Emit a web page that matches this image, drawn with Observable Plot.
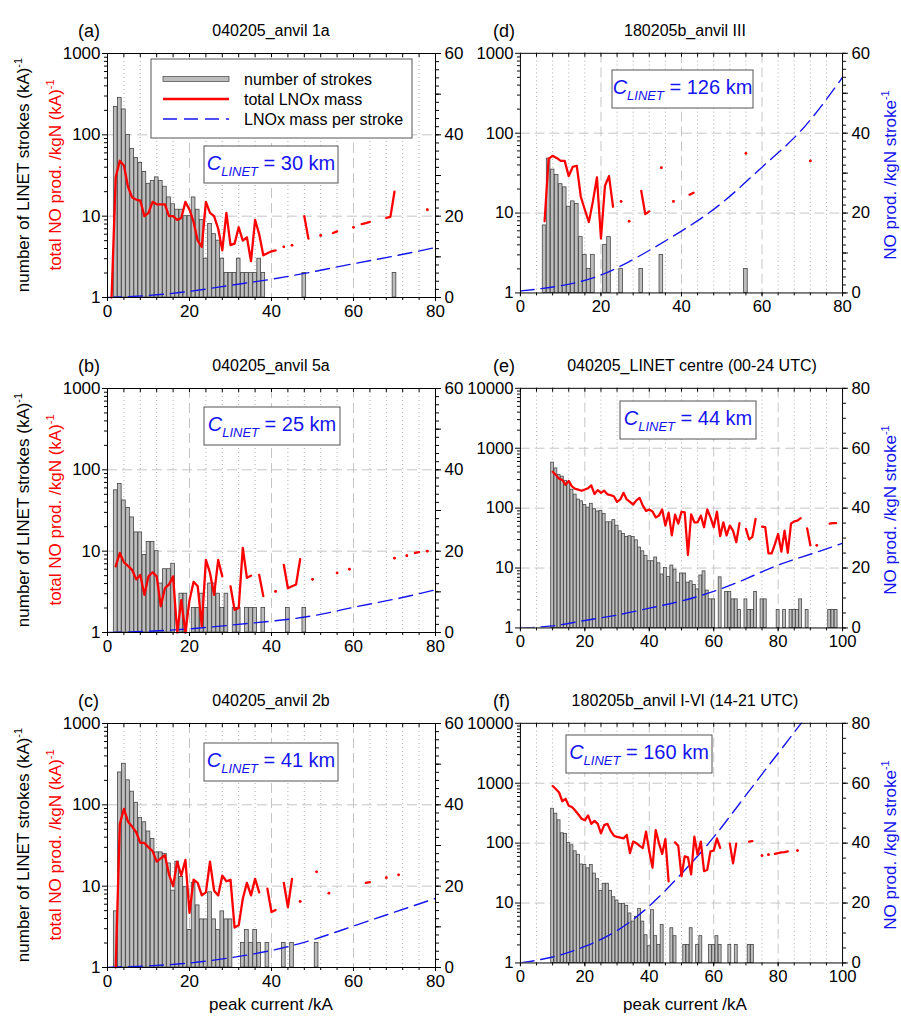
<!DOCTYPE html>
<html><head><meta charset="utf-8">
<script src="https://cdn.jsdelivr.net/npm/d3@7"></script>
<script src="https://cdn.jsdelivr.net/npm/@observablehq/plot@0.6"></script>
<style>
body{margin:0;background:#fff;font-family:"Liberation Sans",Arial,sans-serif;}
#wrap{position:relative;width:901px;height:1019px;overflow:hidden;}
.pp{position:absolute;}
#ov{position:absolute;left:0;top:0;}
</style></head><body><div id="wrap"></div>
<script>
// ---------- data: [peak current kA, value] ----------
const aBars=[[2,220],[3,285],[4,205],[5,100],[6,67],[7,52],[8,45],[9,35],[10,25],[11,27],[12,30],[13,27],[14,23],[15,17],[16,14],[17,12],[18,12],[19,10],[20,10],[21,17],[22,12],[23,9],[24,3],[25,8],[26,6],[27,5],[28,3],[29,2],[30,2],[31,2],[32,3],[33,2],[34,2],[35,2],[36,2],[37,3],[38,2],[48,2],[70,2]];
const aRed=[[1,1],[2,30],[3,48],[4,42],[5,23],[6,17],[7,16],[8,15.5],[9,10],[10,11],[11,15],[12,14],[13,14],[14,14],[15,10],[16,10],[17,9],[18,9.5],[19,15],[20,12],[21,8.5],[22,5],[23,4.2],[24,15],[25,11],[26,10],[27,7],[28,3.8],[29,11],[30,4.4],[31,4.6],[32,7.3],[33,5],[34,5.5],[35,2.8],[36,9],[37,6],[38,3.3],[39,3.5],[40,3.7],[41,3.8],[43,4.2],[45,4.4],[48,10],[49,5.3],[52,5.8],[55,6.2],[56,6.5],[60,7.3],[62,8],[63,8.2],[64,8.5],[68,9.5],[69,9.8],[70,20],[78,12]];
const aBlue=[[0,0],[10,0.5],[20,1.5],[30,3],[40,4.5],[50,6.3],[60,8.3],[70,10.2],[80,12.3]];

const bBars=[[2,56],[3,67],[4,42],[5,34],[6,26],[7,17],[8,17],[9,9],[10,13],[11,13],[12,10],[13,4],[14,6],[15,6],[16,7],[18,3],[19,3],[21,2],[22,2],[23,3],[24,2],[25,4],[26,4],[27,3],[28,2],[29,3],[31,2],[32,2],[34,2],[35,2],[36,2],[38,2],[44,2],[48,2]];
const bRed=[[2,6.5],[3,9.5],[4,7.3],[5,6.6],[6,5.9],[7,4.5],[8,5.1],[9,2.9],[10,4.9],[11,5.5],[12,4.9],[13,2.1],[14,3.5],[15,3.9],[16,4.9],[17,1],[18,2.5],[19,1],[20,2.5],[21,4.2],[22,3.7],[23,1.2],[24,7.8],[25,5.4],[26,2.9],[27,7.8],[28,4.9],[30,3.7],[31,1.9],[32,2],[33,11],[34,4.7],[35,5],[37,5.1],[38,2.8],[41,3.2],[43,6.8],[44,3.5],[45,3.7],[46,3.9],[47,8],[50,4.5],[56,5.4],[59,6],[70,8.2],[73,8.8],[75,9.5],[76,9.7],[78,10]];
const bBlue=[[0,0],[10,0.3],[20,0.9],[30,1.8],[40,2.8],[50,4.1],[60,6.2],[70,8.2],[80,10.5]];

const cBars=[[2,4.9],[3,250],[4,320],[5,200],[6,145],[7,106],[8,69],[9,61],[10,47],[11,38],[12,26],[13,26],[14,25],[15,19],[16,8.8],[17,20],[18,13],[19,9.7],[20,2.9],[21,11],[22,5.8],[23,3.9],[24,3.9],[25,8.4],[26,3.9],[27,2.9],[28,4.9],[29,3.9],[30,3.9],[33,2],[34,2.9],[35,2],[36,2.9],[37,2],[39,2],[43,2],[45,2],[51,2]];
const cRed=[[2,1],[3,58],[4,89],[5,62],[6,54],[7,46],[8,34],[9,34],[10,30],[11,27],[12,20],[13,22],[14,24],[15,14],[16,10],[17,20],[18,13.5],[19,21],[20,4.7],[21,12],[22,11],[23,7.7],[24,8.4],[25,20],[26,8.8],[27,7.7],[28,13.5],[29,11.5],[30,12],[31,3.1],[32,3.3],[33,7],[34,11],[35,7.7],[36,12.3],[37,8.4],[39,9.3],[40,4.8],[41,5.1],[43,11],[44,5.5],[45,12.3],[47,6.5],[51,15],[54,8.2],[63,11],[64,11.2],[68,12.7],[71,13.8]];
const cBlue=[[0,0],[10,0.4],[20,1.1],[30,2.4],[40,4.2],[50,6.8],[60,10.2],[70,13.6],[80,17]];

const dBars=[[6,7],[7,48],[8,35],[9,30],[10,23],[11,21],[12,12],[13,14],[14,13],[15,5],[16,3],[17,2],[18,3],[21,4],[22,5],[25,2],[30,2],[35,3],[56,2]];
const dRed=[[6,7.9],[7,48],[8,52],[9,49],[10,45],[11,45],[12,29],[13,38],[14,39],[15,16],[16,11],[17,7.7],[18,14],[19,28],[20,4.8],[21,22],[22,29],[23,12],[25,14],[27,7.9],[30,19],[31,9.7],[32,10.5],[35,37],[38,14],[42,17],[43,18],[56,56],[72,45]];
const dBlue=[[0,0.5],[10,1.8],[20,4.5],[30,9.5],[40,15.5],[50,22.5],[60,31.5],[70,41],[80,54]];

const eBars=[[10,575],[11,460],[12,357],[13,335],[14,285],[15,260],[16,203],[17,168],[18,139],[19,130],[20,113],[21,102],[22,118],[23,96],[24,88],[25,90],[26,80],[27,58],[28,58],[29,63],[30,51],[31,41],[32,37],[33,33],[34,34],[35,33],[36,29],[37,22],[38,19],[39,16],[40,13],[41,13],[42,15],[43,12],[44,7.8],[45,10],[46,7.1],[47,11],[48,9.4],[49,5.7],[50,8.1],[51,8.1],[52,5.7],[53,6],[54,5.2],[55,4.4],[56,7.5],[57,8.8],[58,4.2],[59,3],[60,3],[62,7],[64,4],[65,4],[66,3],[67,3],[68,2],[70,3],[71,2],[72,2],[73,4],[75,3],[76,3],[80,2],[82,2],[84,2],[85,2],[86,2],[87,3],[89,2],[96,2],[97,2],[98,2]];
const eRed=[[10,405],[11,357],[12,310],[13,297],[14,245],[15,285],[16,230],[17,210],[18,203],[19,195],[20,205],[21,215],[22,240],[23,172],[24,200],[25,180],[26,195],[27,170],[28,165],[29,158],[30,127],[31,140],[32,180],[33,140],[34,127],[35,115],[36,135],[37,148],[38,110],[39,90],[40,95],[41,88],[42,70],[43,75],[44,95],[45,51],[46,84],[47,35],[48,78],[49,55],[50,87],[51,85],[52,16.5],[53,79],[54,58],[55,58],[56,75],[57,48],[58,95],[59,70],[60,48],[61,87],[62,34],[63,58],[64,35],[65,51],[66,42],[67,27],[68,56],[70,45],[71,30],[72,33],[73,66],[75,49],[76,48],[77,17.6],[78,17.6],[79,25],[80,37],[81,18.8],[82,42],[83,18],[84,55],[85,60],[86,62],[87,68],[89,46],[90,24],[92,24],[96,55],[97,56],[98,56]];
const eBlue=[[0,0],[10,0.7],[20,2.5],[30,4.3],[40,6.6],[50,9],[60,12.2],[70,16.4],[80,21],[90,24.6],[100,28.3]];

const fBars=[[10,375],[11,310],[12,240],[13,146],[14,143],[15,100],[16,92],[17,73],[18,64],[19,44],[20,43],[21,38],[22,43],[23,31],[24,25],[25,16],[26,21],[27,21],[28,16],[29,12.5],[30,11],[31,9.7],[32,9.7],[33,9],[34,6.7],[35,4.9],[36,5.9],[37,8],[38,4.9],[39,2.9],[40,1.9],[41,7.6],[42,2.8],[43,2],[44,4.3],[47,3.8],[48,2.8],[51,2],[52,2],[53,3.8],[55,2],[56,2.8],[59,2],[60,2],[61,2.8],[62,2],[65,2],[67,2],[71,2],[72,2]];
const fRed=[[10,900],[11,800],[12,700],[13,500],[14,550],[15,420],[16,400],[17,350],[18,300],[19,255],[20,240],[21,290],[22,210],[23,235],[24,210],[25,145],[26,200],[27,210],[28,160],[29,133],[30,127],[31,124],[32,120],[33,137],[34,68],[35,106],[36,100],[37,90],[38,83],[39,156],[40,73],[41,39],[42,165],[43,100],[44,66],[45,117],[46,23],[48,103],[49,90],[50,28],[51,60],[52,58],[53,30],[54,128],[55,64],[56,106],[57,34],[58,36],[59,73],[60,75],[61,120],[62,83],[65,98],[66,46],[67,98],[71,106],[72,108],[75,62],[77,64],[79,66],[80,68],[81,70],[82,71],[83,73],[86,75]];
const fBlue=[[0,0],[10,2],[20,5.5],[30,10.8],[40,19],[50,29.8],[60,42],[70,56],[80,70],[90,84]];

const titles=["040205_anvil 1a","040205_anvil 5a","040205_anvil 2b","180205b_anvil III","040205_LINET centre (00-24 UTC)","180205b_anvil I-VI (14-21 UTC)"];
const letters=["(a)","(b)","(c)","(d)","(e)","(f)"];
const cLinet=["30","25","41","126","44","160"];

const panels=[
 {col:0,row:0,xmax:80,D:3,rmax:60,bars:aBars,red:aRed,blue:aBlue,box:[204,146,338,183]},
 {col:0,row:1,xmax:80,D:3,rmax:60,bars:bBars,red:bRed,blue:bBlue,box:[204,407,340,445]},
 {col:0,row:2,xmax:80,D:3,rmax:60,bars:cBars,red:cRed,blue:cBlue,box:[204,743,338,781]},
 {col:1,row:0,xmax:80,D:3,rmax:60,bars:dBars,red:dRed,blue:dBlue,box:[612,70,753,108]},
 {col:1,row:1,xmax:100,D:4,rmax:80,bars:eBars,red:eRed,blue:eBlue,box:[620,401,756,439]},
 {col:1,row:2,xmax:100,D:4,rmax:80,bars:fBars,red:fRed,blue:fBlue,box:[566,735,712,773]},
];
const colL=[107,521], rowT=[53,388,723], W=328, H=244;
const mL=60,mR=60,mT=10,mB=30;
const wrap=document.getElementById("wrap");
const FONT='"Liberation Sans",Arial,sans-serif';

panels.forEach((p,i)=>{
  const ymax=10**p.D;
  const conv=v=>10**(v/p.rmax*p.D);
  const bars=p.bars.map(([x,n])=>({x,n}));
  const line=[];
  p.red.forEach(([x,v],j)=>{ if(j>0 && p.red[j-1][0]!==x-1) line.push({x:x-0.5,v:null}); line.push({x,v}); });
  const dots=p.red.filter(([x],j)=>!(j>0&&p.red[j-1][0]===x-1)&&!(j<p.red.length-1&&p.red[j+1][0]===x+1)).map(([x,v])=>({x,v}));
  const blue=p.blue.map(([x,v])=>({x,v}));
  const minorStep=p.xmax===80?4:5;
  const allX=d3.range(0,p.xmax+0.01,minorStep);
  const majorX=d3.range(0,p.xmax+0.01,20);
  const minorGrid=allX.filter(x=>x>0&&x<p.xmax&&x%20!==0);
  const majorGrid=majorX.filter(x=>x>0&&x<p.xmax);
  const decades=d3.range(0,p.D+1).map(k=>10**k);
  const logMinor=[];
  decades.slice(0,-1).forEach(d=>{for(let m=2;m<10;m++)logMinor.push(d*m);});
  const rStep=p.rmax===60?10:20, rMinStep=p.rmax===60?2:5;
  const rMajor=d3.range(0,p.rmax+0.01,rStep).map(conv);
  const rMinor=d3.range(0,p.rmax+0.01,rMinStep).map(conv);
  const plot=Plot.plot({
    width:W+mL+mR,height:H+mT+mB,marginLeft:mL,marginRight:mR,marginTop:mT,marginBottom:mB,
    style:{fontSize:"17px",fontFamily:FONT,color:"black",background:"transparent"},
    x:{domain:[0,p.xmax],label:null},
    y:{type:"log",domain:[1,ymax],label:null},
    marks:[
      Plot.ruleX(minorGrid,{stroke:"#999",strokeDasharray:"1,3",strokeWidth:0.8}),
      Plot.ruleX(majorGrid,{stroke:"#c4c4c4",strokeDasharray:"10,5",strokeWidth:1}),
      Plot.ruleY(decades.slice(1,-1),{stroke:"#c4c4c4",strokeDasharray:"10,5",strokeWidth:1}),
      Plot.rect(bars,{x1:d=>d.x-0.45,x2:d=>d.x+0.45,y1:1,y2:"n",fill:"#bdbdbd",stroke:"#444",strokeWidth:0.8}),
      Plot.line(blue,{x:"x",y:d=>conv(d.v),stroke:"#1414f0",strokeWidth:1.4,strokeDasharray:"14,7",curve:"natural",clip:true}),
      Plot.line(line,{x:"x",y:"v",stroke:"#ff0000",strokeWidth:2.3}),
      Plot.dot(dots,{x:"x",y:"v",r:1.4,fill:"#ff0000"}),
      Plot.frame({stroke:"black",strokeWidth:1}),
      Plot.axisX(majorX,{anchor:"bottom",tickSize:4,tickPadding:3,tickFormat:d=>String(d),label:null}),
      Plot.axisX(allX,{anchor:"bottom",tickSize:3,tickFormat:()=>"",label:null}),
      Plot.tickX(allX,{x:d=>d,insetBottom:H-4,stroke:"black"}),
      Plot.axisY(decades,{anchor:"left",tickSize:5,tickPadding:2,tickFormat:d=>String(d),label:null}),
      Plot.axisY(logMinor,{anchor:"left",tickSize:3,tickFormat:()=>"",label:null}),
      Plot.axisY(rMajor,{anchor:"right",tickSize:5,tickPadding:4,tickFormat:d=>String(Math.round(Math.log10(d)/p.D*p.rmax)),label:null}),
      Plot.axisY(rMinor,{anchor:"right",tickSize:3,tickFormat:()=>"",label:null}),
    ]
  });
  const div=document.createElement("div");
  div.className="pp";
  div.style.left=(colL[p.col]-mL)+"px";
  div.style.top=(rowT[p.row]-mT)+"px";
  div.appendChild(plot);
  wrap.appendChild(div);
});

// ---------- overlay texts ----------
const ns="http://www.w3.org/2000/svg";
const ov=document.createElementNS(ns,"svg");
ov.setAttribute("id","ov");ov.setAttribute("width",901);ov.setAttribute("height",1019);
ov.style.fontFamily=FONT;
wrap.appendChild(ov);
function el(tag,attrs,parent=ov){const e=document.createElementNS(ns,tag);for(const k in attrs)e.setAttribute(k,attrs[k]);parent.appendChild(e);return e;}
function txt(s,attrs,parent=ov){const e=el("text",attrs,parent);e.textContent=s;return e;}
function tsp(s,attrs,parent){const e=el("tspan",attrs,parent);e.textContent=s;return e;}
const titleCx=[271,685];
panels.forEach((p,i)=>{
  const top=rowT[p.row], cy=top+H/2;
  txt(letters[i],{x:p.col?493:78,y:top-16,"font-size":18});
  txt(titles[i],{x:p.col===1&&p.row===1?692:titleCx[p.col],y:top-17,"font-size":16,"text-anchor":"middle"});
  const [x1,y1,x2,y2]=p.box;
  el("rect",{x:x1,y:y1,width:x2-x1,height:y2-y1,fill:"white",stroke:"#555","stroke-width":1});
  const t=el("text",{x:(x1+x2)/2,y:(y1+y2)/2+5,"text-anchor":"middle",fill:"#1414f0","font-size":20});
  tsp("C",{"font-style":"italic"},t);
  tsp("LINET",{"font-style":"italic","font-size":13,dy:6},t);
  tsp(" = "+cLinet[i]+" km",{dy:-6},t);
  if(p.col===0){
    const a=el("text",{transform:`translate(29,${cy}) rotate(-90)`,"text-anchor":"middle","font-size":17,fill:"black"});
    tsp("number of LINET strokes (kA)",{},a);tsp("-1",{"font-size":11,dy:-7},a);
    const b=el("text",{transform:`translate(61,${cy}) rotate(-90)`,"text-anchor":"middle","font-size":17,fill:"#ff0000"});
    tsp("total NO prod. /kgN (kA)",{},b);tsp("-1",{"font-size":11,dy:-7},b);
  } else {
    const c=el("text",{transform:`translate(896,${cy}) rotate(-90)`,"text-anchor":"middle","font-size":17,fill:"#1414f0"});
    tsp("NO prod. /kgN stroke",{},c);tsp("-1",{"font-size":11,dy:-7},c);
  }
});
txt("peak current /kA",{x:271,y:1010,"text-anchor":"middle","font-size":17});
txt("peak current /kA",{x:685,y:1010,"text-anchor":"middle","font-size":17});
// legend in (a)
el("rect",{x:151,y:59,width:261,height:79,fill:"white",stroke:"#555","stroke-width":1});
el("rect",{x:163,y:76.5,width:66,height:5,fill:"#bdbdbd",stroke:"#555","stroke-width":0.8});
el("line",{x1:163,x2:229,y1:99,y2:99,stroke:"#ff0000","stroke-width":2.3});
el("line",{x1:163,x2:229,y1:119,y2:119,stroke:"#1414f0","stroke-width":1.4,"stroke-dasharray":"14,7"});
txt("number of strokes",{x:244,y:85,"font-size":16});
txt("total LNOx mass",{x:244,y:105,"font-size":16});
txt("LNOx mass per stroke",{x:244,y:125,"font-size":16});
</script></body></html>
